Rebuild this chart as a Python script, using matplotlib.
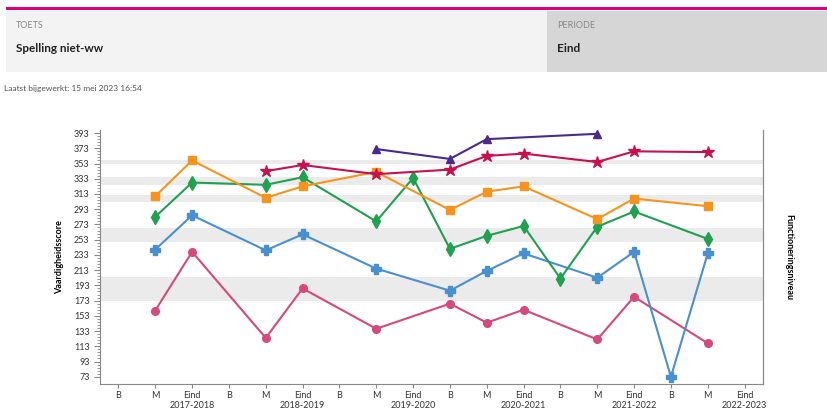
import matplotlib
matplotlib.use("Agg")
import matplotlib.pyplot as plt
import numpy as np
from matplotlib.patches import Rectangle

plt.rcParams["font.family"] = ["Lato", "DejaVu Sans"]

# x positions: three periods per school year
periods = ["B", "M", "Eind"]
years = ["2017-2018", "2018-2019", "2019-2020", "2020-2021", "2021-2022", "2022-2023"]
tick_labels = []
for yr in years:
	for p in periods:
		tick_labels.append(p + "\n" + yr if p == "Eind" else p)

# series: (x index, score)
pink_x = [1, 2, 4, 5, 7, 9, 10, 11, 13, 14, 16]
pink_y = [160, 237, 124, 189, 136, 169, 144, 161, 122, 178, 117]
blue_x = [1, 2, 4, 5, 7, 9, 10, 11, 13, 14, 15, 16]
blue_y = [240, 285, 239, 260, 215, 186, 212, 235, 203, 237, 73, 235]
green_x = [1, 2, 4, 5, 7, 8, 9, 10, 11, 12, 13, 14, 16]
green_y = [283, 328, 325, 335, 277, 334, 241, 258, 271, 202, 270, 290, 254]
orange_x = [1, 2, 4, 5, 7, 9, 10, 11, 13, 14, 16]
orange_y = [310, 357, 308, 323, 342, 292, 316, 323, 280, 307, 297]
star_x = [4, 5, 7, 9, 10, 11, 13, 14, 16]
star_y = [343, 351, 339, 345, 363, 366, 355, 369, 368]
purple_x = [7, 9, 10, 13]
purple_y = [372, 359, 385, 392]

# grey reference bands (low, high)
bands = [(172, 204), (250, 268), (303, 311), (325, 335), (352, 358)]

fig = plt.figure(figsize=(8.28, 4.12), dpi=100)

# header
fig.add_artist(Rectangle((6 / 828, 1 - 10 / 412), 1, 2.5 / 412, transform=fig.transFigure,
						 color="#e2007a", lw=0))
fig.add_artist(Rectangle((6 / 828, 1 - 72 / 412), 541 / 828, 61 / 412, transform=fig.transFigure,
						 color="#f3f3f3", lw=0))
fig.add_artist(Rectangle((547 / 828, 1 - 72 / 412), 281 / 828, 61 / 412, transform=fig.transFigure,
						 color="#d6d6d6", lw=0))
fig.text(16 / 828, 1 - 25 / 412, "TOETS", fontsize=6.5, color="#888888", va="center")
fig.text(16 / 828, 1 - 48 / 412, "Spelling niet-ww", fontsize=8.5, fontweight="bold", color="#222222", va="center")
fig.text(557 / 828, 1 - 25 / 412, "PERIODE", fontsize=6.5, color="#888888", va="center")
fig.text(557 / 828, 1 - 48 / 412, "Eind", fontsize=8.5, fontweight="bold", color="#222222", va="center")
fig.text(4 / 828, 1 - 89 / 412, "Laatst bijgewerkt: 15 mei 2023 16:54", fontsize=6, color="#555555", va="center")

ax = fig.add_axes([100 / 828, 1 - 384 / 412, 663 / 828, 254 / 412])

for lo, hi in bands:
	ax.axhspan(lo, hi, color="#ebebeb", lw=0, zorder=0)

lw = 1.5
ax.plot(pink_x, pink_y, color="#d6497c", marker="o", ms=5.5, lw=lw)
ax.plot(blue_x, blue_y, color="#4a90d0", marker="P", ms=7, lw=lw)
ax.plot(green_x, green_y, color="#1fa150", marker="d", ms=7, lw=lw)
ax.plot(orange_x, orange_y, color="#f7941d", marker="s", ms=5.5, lw=lw)
ax.plot(star_x, star_y, color="#c8104e", marker="*", ms=9, lw=lw)
ax.plot(purple_x, purple_y, color="#4a2a91", marker="^", ms=6, lw=lw)

ax.set_xlim(-0.5, 17.5)
ax.set_ylim(63.5, 397)
ax.set_xticks(range(len(tick_labels)))
ax.set_xticklabels(tick_labels, fontsize=6.5, color="#333333")
ax.set_yticks(np.arange(73, 394, 20))
ax.set_yticks(np.arange(73, 396, 4), minor=True)
ax.tick_params(axis="y", labelsize=6.5, labelcolor="#333333", length=4, color="#888888")
ax.tick_params(axis="y", which="minor", length=2, color="#888888")
ax.tick_params(axis="x", length=3, color="#888888", pad=2)

ax.spines["top"].set_visible(False)
for s in ["left", "bottom", "right"]:
	ax.spines[s].set_color("#888888")

ax.set_ylabel("Vaardigheidsscore", fontsize=6.5, fontweight="bold", labelpad=7)
ax2 = ax.twinx()
ax2.set_ylim(ax.get_ylim())
ax2.set_yticks([])
for s in ["top", "left", "bottom"]:
	ax2.spines[s].set_visible(False)
ax2.spines["right"].set_color("#888888")
ax2.set_ylabel("Functioneringsniveau", fontsize=6.5, fontweight="bold", rotation=-90, labelpad=22)

fig.savefig("out.png", dpi=100)
